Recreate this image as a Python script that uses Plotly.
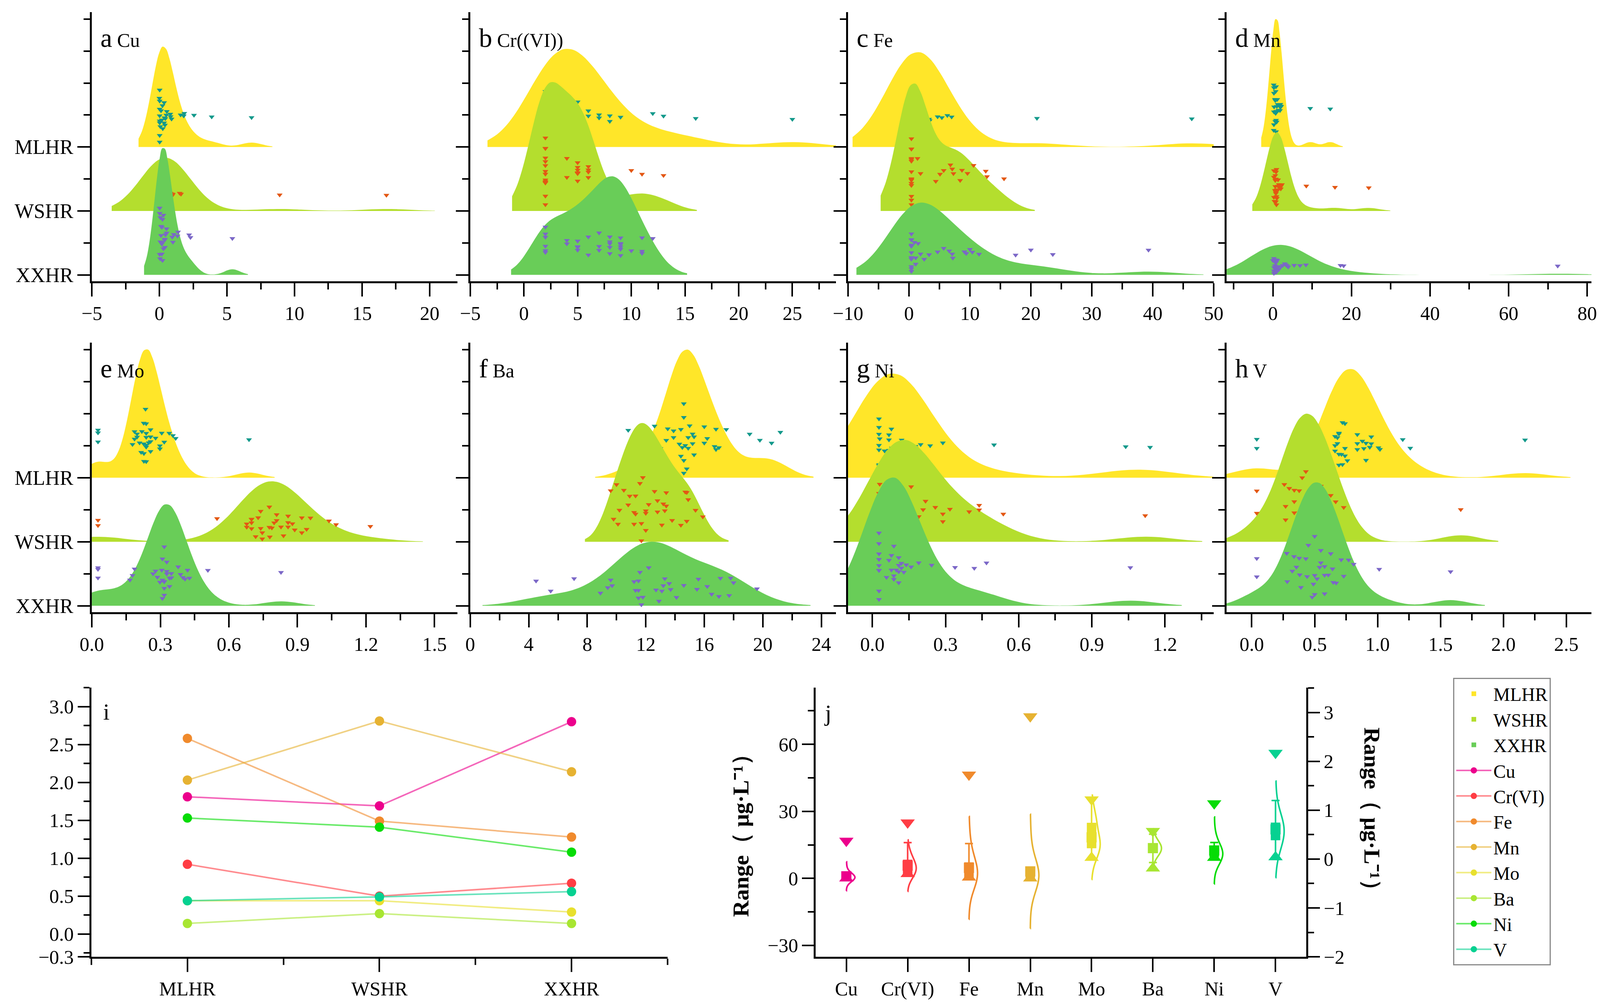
import numpy as np
import plotly.graph_objects as go

# ---------------- data ----------------
RIVERS = ["MLHR", "WSHR", "XXHR"]
ELEMENTS = ["Cu", "Cr(VI)", "Fe", "Mn", "Mo", "Ba", "Ni", "V"]
RIDGE_TITLES = ["Cu", "Cr((VI))", "Fe", "Mn", "Mo", "Ba", "Ni", "V"]
PANEL_LETTERS = ["a", "b", "c", "d", "e", "f", "g", "h"]

CU_MLHR = [0.23, 0.07, 0.37, 0.02, 0.18, 0.41, 0.02, 0.51, 0.12, 0.35, 0.02, 0.44, 0.02, 0.55, 0.02,
           0.35, 0.02, 0.25, 0.81, 0.02, 1.80, 1.57, 0.02, 0.90, 1.84, 0.83, 2.56, 3.87, 6.82, 0.00]
CU_WSHR = [0.65, 0.83, 0.83, 0.95, 1.50, 1.60, 1.00, 0.93, 8.90, 16.80, 0.05, 0.10, 0.10, 0.15, 0.20,
           0.20, 0.25, 0.30, 0.30, 0.35, 0.40, 0.10, 0.20, 0.30, 0.45, 0.50, 0.15, 0.25, 0.05, 0.35]
CU_XXHR = [0.07, 0.18, 0.12, 0.23, 0.53, 0.02, 0.02, 0.95, 0.39, 0.05, 0.23, 0.41, 0.07, 0.30, 0.53,
           1.06, 0.41, 0.02, 0.18, 0.30, 1.00, 1.38, 2.30, 0.18, 0.12, 1.34, 2.20, 5.40, 0.20, 0.45]

CR_MLHR = [2, 2, 2, 2, 2, 2, 2, 2, 3, 3, 4, 4, 4, 4, 5, 5, 5, 5, 5, 6, 6, 7, 7, 8, 8, 9, 12, 13, 16, 25]
CR_WSHR = [2, 2, 2, 2, 2, 2, 2, 2, 2, 2, 2, 2, 2, 2, 4, 4, 5, 5, 5, 5, 5, 5, 5, 6, 6, 6, 6, 10, 11, 13]
CR_XXHR = [2, 2, 2, 2, 2, 2, 4, 4, 5, 5, 5, 5, 6, 6, 7, 7, 7, 8, 8, 8, 8, 8, 9, 9, 9, 9, 9, 9, 10, 11,
           11, 11, 12]

FE_MLHR = [0.4, 0.4, 0.4, 0.4, 1.3, 2.4, 0.4, 0.4, 1.2, 5.4, 3.4, 4.7, 6.3, 3.3, 7.0, 21.0, 46.4,
           0.4, 0.4, 0.4, 0.4, 0.4, 0.4, 0.4, 0.4, 0.8, 1.0, 1.5, 2.0, 0.6]
FE_WSHR = [0.4, 0.4, 0.4, 0.4, 0.4, 0.4, 0.4, 0.4, 0.4, 0.4, 0.4, 1.4, 1.9, 4.4, 7.3, 8.4, 5.1, 5.7,
           0.4, 0.4, 8.7, 10.6, 12.6, 6.8, 7.1, 0.4, 0.4, 12.8, 9.6, 15.6]
FE_XXHR = [0.4, 1.1, 3.3, 0.4, 0.4, 2.5, 1.1, 0.4, 0.9, 0.4, 0.4, 1.9, 0.4, 0.4, 6.6, 7.2, 0.4, 1.5,
           9.4, 5.7, 0.4, 9.1, 0.4, 0.4, 10.0, 10.4, 4.7, 7.1, 11.5, 17.5, 20.0, 23.6, 39.3]

MN_MLHR = [0.8, 0.95, 0.8, 0.8, 0.7, 0.6, 1.9, 0.25, 0.6, 1.1, 0.25, 0.8, 0.7, 1.9, 0.6, 0.2, 0.95,
           0.25, 2.1, 0.2, 1.8, 0.25, 1.4, 1.9, 1.0, 9.5, 14.6, 0.5, 1.2, 0.3]
MN_WSHR = [0.95, 1.3, 0.25, 0.6, 2.0, 0.9, 2.0, 1.7, 0.25, 0.6, 2.3, 0.75, 0.6, 2.0, 0.75, 0.9, 0.25,
           0.75, 1.3, 8.5, 15.8, 24.4, 0.5, 0.8, 1.0, 1.2, 0.4, 0.7, 1.5, 0.9]
MN_XXHR = [0.6, 1.1, 0.25, 0.6, 0.9, 3.3, 0.25, 0.75, 2.5, 3.0, 0.0, 6.9, 8.4, 5.4, 0.25, 0.75, 3.9,
           3.6, 17.2, 18.0, 72.5, 0.3, 0.5, 0.8, 1.0, 1.2, 0.4, 0.6, 2.0, 1.5]

MO_MLHR = [0.257, 0.257, 0.227, 0.209, 0.228, 0.249, 0.228, 0.235, 0.238, 0.187, 0.198, 0.238, 0.238,
           0.219, 0.298, 0.187, 0.298, 0.257, 0.238, 0.355, 0.257, 0.238, 0.216, 0.227, 0.279, 0.339,
           0.178, 0.238, 0.367, 0.306, 0.317, 0.027, 0.027, 0.027, 0.198, 0.688]
MO_WSHR = [0.777, 0.777, 0.859, 0.859, 0.699, 0.888, 0.717, 0.809, 0.678, 0.919, 0.739, 0.779, 0.788,
           0.746, 0.746, 0.699, 0.728, 0.678, 0.839, 0.878, 0.940, 0.957, 0.809, 0.548, 1.038, 1.069,
           0.919, 0.859, 0.828, 0.798, 0.739, 0.699, 0.699, 1.219, 0.027, 0.027]
MO_XXHR = [0.317, 0.317, 0.340, 0.287, 0.298, 0.309, 0.317, 0.268, 0.340, 0.378, 0.328, 0.309, 0.388,
           0.419, 0.309, 0.317, 0.317, 0.328, 0.348, 0.399, 0.279, 0.306, 0.178, 0.187, 0.408, 0.348,
           0.167, 0.328, 0.427, 0.508, 0.828, 0.027, 0.027, 0.027]

BA_MLHR = [14.4, 14.8, 14.6, 14.6, 14.3, 14.6, 15.0, 14.9, 14.9, 15.3, 16.0, 13.9, 14.5, 15.2, 15.3,
           16.8, 13.5, 14.7, 15.2, 16.8, 17.5, 13.9, 14.6, 16.0, 17.0, 14.4, 16.2, 16.7, 19.8, 19.1,
           20.6, 21.2, 13.4, 10.8, 12.0, 12.6, 13.0]
BA_WSHR = [12.2, 12.0, 12.8, 11.2, 13.3, 13.4, 10.0, 13.1, 14.4, 11.3, 12.0, 12.0, 11.3, 11.6, 13.8,
           14.7, 10.5, 12.8, 10.9, 11.2, 9.8, 14.8, 14.8, 10.2, 15.9, 9.6, 10.1, 13.4, 15.4, 10.8,
           11.7, 12.6, 13.2, 14.9, 11.7, 11.8]
BA_XXHR = [11.7, 11.6, 11.5, 11.8, 14.1, 12.7, 13.3, 13.6, 17.8, 11.5, 9.7, 11.3, 9.4, 12.2, 11.2,
           13.7, 15.6, 16.5, 17.0, 11.5, 12.9, 13.1, 17.1, 18.0, 15.5, 7.1, 9.6, 13.2, 14.6, 16.2,
           4.5, 5.5, 8.9, 17.7, 19.6]

NI_MLHR = [0.068, 0.027, 0.068, 0.027, 0.098, 0.078, 0.027, 0.027, 0.027, 0.058, 0.177, 0.068, 0.119,
           0.068, 0.078, 0.027, 0.198, 0.027, 0.177, 0.237, 0.289, 0.499, 1.039, 1.139, 0.030, 0.050,
           0.100, 0.150, 0.080, 0.120]
NI_WSHR = [0.078, 0.098, 0.068, 0.098, 0.058, 0.159, 0.108, 0.027, 0.159, 0.027, 0.139, 0.149, 0.169,
           0.208, 0.258, 0.318, 0.289, 0.289, 0.218, 0.190, 0.397, 0.438, 0.438, 0.537, 1.119, 0.030,
           0.050, 0.070, 0.100, 0.120]
NI_XXHR = [0.078, 0.088, 0.119, 0.027, 0.058, 0.159, 0.027, 0.078, 0.027, 0.027, 0.098, 0.108, 0.027,
           0.108, 0.027, 0.119, 0.129, 0.108, 0.190, 0.088, 0.139, 0.027, 0.027, 0.088, 0.068, 0.243,
           0.339, 0.027, 0.108, 0.468, 0.418, 1.058]

V_MLHR = [0.839, 0.662, 0.693, 0.713, 0.662, 0.681, 0.741, 0.721, 0.721, 0.693, 0.693, 0.839, 0.908,
          1.007, 0.662, 0.693, 0.938, 1.019, 0.760, 0.879, 0.950, 0.741, 0.681, 0.891, 0.908, 0.950,
          0.741, 0.839, 1.200, 1.260, 2.172, 0.040, 0.040]
V_WSHR = [0.377, 0.371, 0.430, 0.338, 0.338, 0.579, 0.592, 0.608, 0.269, 0.401, 0.579, 0.628, 0.338,
          0.391, 0.298, 0.269, 0.401, 0.401, 0.549, 0.731, 0.667, 0.040, 0.040, 0.259, 1.661, 0.450,
          0.500, 0.550, 0.480, 0.520]
V_XXHR = [0.579, 0.430, 0.490, 0.608, 0.500, 0.500, 0.539, 0.391, 0.500, 0.549, 0.731, 0.671, 0.519,
          0.282, 0.322, 0.711, 0.579, 0.579, 0.642, 0.648, 0.450, 0.480, 0.549, 0.770, 0.381, 0.355,
          0.336, 0.377, 0.278, 0.440, 0.810, 0.040, 0.040, 0.628, 1.013, 1.580]

# panel i values (per river: MLHR, WSHR, XXHR)
I_CU = [1.81, 1.69, 2.80]
I_CR = [0.92, 0.50, 0.67]
I_FE = [2.58, 1.49, 1.28]
I_MN = [2.03, 2.81, 2.14]
I_MO = [0.44, 0.44, 0.29]
I_BA = [0.14, 0.27, 0.14]
I_NI = [1.53, 1.41, 1.08]
I_V = [0.44, 0.49, 0.56]

SAMPLES = [
    [CU_MLHR, CU_WSHR, CU_XXHR], [CR_MLHR, CR_WSHR, CR_XXHR], [FE_MLHR, FE_WSHR, FE_XXHR],
    [MN_MLHR, MN_WSHR, MN_XXHR], [MO_MLHR, MO_WSHR, MO_XXHR], [BA_MLHR, BA_WSHR, BA_XXHR],
    [NI_MLHR, NI_WSHR, NI_XXHR], [V_MLHR, V_WSHR, V_XXHR],
]
I_VALUES = [I_CU, I_CR, I_FE, I_MN, I_MO, I_BA, I_NI, I_V]
RIGHT_AXIS = [False, False, False, False, True, False, True, True]

# ---------------- styles ----------------
FONT = "Liberation Serif"
FILL = ["#FFE629", "#B4DE2E", "#69CD58"]
POINT = ["#13998B", "#E35713", "#7B67C7"]
ELEM_COLOR = ["#EC008C", "#FF3D44", "#F08A2C", "#E6B232", "#E8E02E", "#A8E632", "#06DC06", "#06D191"]
RIDGE_PEAK = [[1.57, 0.83, 1.98], [1.53, 2.01, 1.54], [1.48, 1.99, 1.13], [2.0, 1.23, 0.47],
              [2.0, 0.94, 1.58], [2.0, 1.85, 1.0], [1.62, 1.59, 2.0], [1.69, 2.0, 1.92]]
X_RANGES = [[-5, 22.05], [-5, 29.06], [-10, 50], [-11.8, 81.1], [0, 1.6], [0, 25], [-0.1, 1.4], [-0.2, 2.7]]
X_DTICK = [5, 5, 10, 20, 0.3, 4, 0.3, 0.5]
X_FMT = ["", "", "", "", ".1f", "", ".1f", ".1f"]
COL_DOM = [[0.0571, 0.2844], [0.2924, 0.5198], [0.5273, 0.7547], [0.7627, 0.9896]]
ROW_DOM = [[0.7204, 0.9880], [0.3915, 0.6594]]
BOT_DOM = [0.0489, 0.3165]
Y_RIDGE = [-0.1, 4.11]
W, H = 4117, 2575

AX_COMMON = dict(showgrid=False, zeroline=False, showline=True, linecolor="black", linewidth=5,
                 automargin=False, ticks="outside", tickwidth=4, tickcolor="black",
                 tickfont=dict(family=FONT, size=50, color="black"))


def minor(t0, dt, ln=16):
    return dict(tick0=t0, dtick=dt, ticklen=ln, tickwidth=4, ticks="outside", tickcolor="black",
                showgrid=False)


fig = go.Figure()
layout = {}
annotations = []

# ---------------- ridge panels a-h ----------------
for k, elem in enumerate(ELEMENTS):
    n = k + 1
    xa, ya = ("x" if n == 1 else f"x{n}"), ("y" if n == 1 else f"y{n}")
    row, col = divmod(k, 4)
    for r, river in enumerate(RIVERS):
        vals = np.asarray(SAMPLES[k][r], dtype=float)
        bw = 1.06 * vals.std(ddof=1) * len(vals) ** -0.2
        fig.add_trace(go.Violin(
            x=vals, y0=len(RIVERS) - 1 - r, orientation="h", side="positive",
            width=2 * RIDGE_PEAK[k][r], bandwidth=bw, spanmode="soft",
            fillcolor=FILL[r], line=dict(width=0, color=FILL[r]), opacity=1,
            points="all", pointpos=0.32, jitter=0.32,
            marker=dict(symbol="triangle-down", size=13, color=POINT[r], line=dict(width=0)),
            box_visible=False, meanline_visible=False,
            name=river, showlegend=(k == 0), legendgroup=river,
            xaxis=xa, yaxis=ya, hoverinfo="skip"))
    xkey = "xaxis" if n == 1 else f"xaxis{n}"
    ykey = "yaxis" if n == 1 else f"yaxis{n}"
    xfmt = dict(tickformat=X_FMT[k]) if X_FMT[k] else {}
    layout[xkey] = dict(AX_COMMON, domain=COL_DOM[col], anchor=ya, range=X_RANGES[k],
                        tick0=0, dtick=X_DTICK[k], ticklen=34,
                        minor=minor(0, X_DTICK[k] / 2), **xfmt)
    layout[ykey] = dict(AX_COMMON, domain=ROW_DOM[row], anchor=xa, range=Y_RIDGE, type="linear",
                        tickmode="array", tickvals=[0, 1, 2],
                        ticktext=[RIVERS[2], RIVERS[1], RIVERS[0]],
                        showticklabels=(col == 0), ticklen=32,
                        tickfont=dict(family=FONT, size=52, color="black"),
                        minor=minor(0, 0.5))
    # long ticks above the ridges (no labels) on an overlaying axis
    layout[f"yaxis{20 + n}"] = dict(overlaying=ya, anchor=xa, side="left", range=Y_RIDGE,
                                    type="linear", showgrid=False, zeroline=False, showline=False,
                                    automargin=False, tickmode="array", tickvals=[3, 4],
                                    showticklabels=False, ticks="outside", ticklen=32,
                                    tickwidth=4, tickcolor="black")
    annotations.append(dict(
        xref="paper", yref="paper",
        x=COL_DOM[col][0] + 20 / W, y=ROW_DOM[row][1] - 66 / H,
        xanchor="left", yanchor="middle", showarrow=False,
        text=f"<span style='font-size:68px'>{PANEL_LETTERS[k]}</span> {RIDGE_TITLES[k]}",
        font=dict(family=FONT, size=50, color="black")))

# ---------------- panel i ----------------
xi = list(range(1, len(RIVERS) + 1))
for k, elem in enumerate(ELEMENTS):
    c = ELEM_COLOR[k]
    rgb = tuple(int(c[i:i + 2], 16) for i in (1, 3, 5))
    fig.add_trace(go.Scatter(
        x=xi, y=I_VALUES[k], mode="lines+markers", name=elem,
        line=dict(color=f"rgba({rgb[0]},{rgb[1]},{rgb[2]},0.6)", width=4),
        marker=dict(symbol="circle", size=24, color=c),
        xaxis="x9", yaxis="y9", hoverinfo="skip"))
layout["xaxis9"] = dict(AX_COMMON, domain=[0.0568, 0.4151], anchor="y9", range=[0.5, 3.5],
                        tickmode="array", tickvals=xi, ticktext=RIVERS, ticklen=34,
                        minor=minor(0.5, 1))
layout["yaxis9"] = dict(AX_COMMON, domain=BOT_DOM, anchor="x9", range=[-0.3, 3.25],
                        tickmode="array", tickvals=[-0.3, 0, 0.5, 1.0, 1.5, 2.0, 2.5, 3.0],
                        tickformat=".1f", ticklen=30, minor=minor(0.25, 0.5, 15))
annotations.append(dict(xref="paper", yref="paper", x=262 / W, y=1 - 1822 / H, xanchor="left",
                        yanchor="middle", showarrow=False, text="i",
                        font=dict(family=FONT, size=60, color="black")))

# ---------------- panel j ----------------
for k, elem in enumerate(ELEMENTS):
    c = ELEM_COLOR[k]
    pooled = np.concatenate([np.asarray(s, dtype=float) for s in SAMPLES[k]])
    m, s = pooled.mean(), pooled.std(ddof=1)
    ya = "y11" if RIGHT_AXIS[k] else "y10"
    fig.add_trace(go.Violin(
        y=pooled, x0=k, orientation="v", side="positive", width=0.28,
        bandwidth=0.85 * s, spanmode="manual", span=[m - 3 * s, m + 3 * s],
        fillcolor="rgba(0,0,0,0)", line=dict(color=c, width=4), points=False,
        box_visible=False, meanline_visible=False, showlegend=False,
        xaxis="x10", yaxis=ya, hoverinfo="skip"))
    fig.add_trace(go.Box(
        y=pooled, x0=k, width=0.13, boxpoints="outliers", whiskerwidth=1,
        marker=dict(opacity=0, size=1), fillcolor=c, line=dict(color=c, width=4), showlegend=False,
        xaxis="x10", yaxis=ya, hoverinfo="skip"))
    fig.add_trace(go.Scatter(
        x=[k], y=[m], mode="markers", marker=dict(symbol="square", size=26, color=c),
        showlegend=False, xaxis="x10", yaxis=ya, hoverinfo="skip"))
    fig.add_trace(go.Scatter(
        x=[k, k], y=[pooled.max(), pooled.min()], mode="markers",
        marker=dict(symbol=["triangle-down", "triangle-up"], size=32, color=c),
        showlegend=False, xaxis="x10", yaxis=ya, hoverinfo="skip"))

layout["xaxis10"] = dict(AX_COMMON, domain=[0.5072, 0.8122], anchor="y10", range=[-0.5, 7.5],
                         tickmode="array", tickvals=list(range(len(ELEMENTS))), ticktext=ELEMENTS,
                         ticklen=34)
layout["yaxis10"] = dict(AX_COMMON, domain=BOT_DOM, anchor="x10", range=[-35.1, 85.4],
                         tick0=0, dtick=30, ticklen=30, minor=minor(15, 30, 15))
layout["yaxis11"] = dict(AX_COMMON, domain=BOT_DOM, anchor="x10", overlaying="y10", side="right",
                         range=[-2.0, 3.51], tick0=0, dtick=1, ticklen=30, minor=minor(0.5, 1, 15))
annotations.append(dict(xref="paper", yref="paper", x=2108 / W, y=1 - 1825 / H, xanchor="left",
                        yanchor="middle", showarrow=False, text="j",
                        font=dict(family=FONT, size=60, color="black")))
TITLE_J = "Range（ μg·L⁻¹）"
annotations.append(dict(xref="paper", yref="paper", x=1896 / W, y=1 - 2124 / H, textangle=-90,
                        xanchor="center", yanchor="middle", showarrow=False, text=TITLE_J,
                        font=dict(family=FONT, size=58, color="black", weight="bold")))
annotations.append(dict(xref="paper", yref="paper", x=3513 / W, y=1 - 2085 / H, textangle=90,
                        xanchor="center", yanchor="middle", showarrow=False, text=TITLE_J,
                        font=dict(family=FONT, size=58, color="black", weight="bold")))

fig.update_layout(
    template="none",
    width=W, height=H, margin=dict(l=0, r=0, t=0, b=0, autoexpand=False),
    paper_bgcolor="white", plot_bgcolor="white",
    font=dict(family=FONT, size=50, color="black"),
    violinmode="overlay", boxmode="overlay",
    annotations=annotations,
    legend=dict(x=3720 / W, y=1 - 1735 / H, xanchor="left", yanchor="top",
                bordercolor="#8a8a8a", borderwidth=3, bgcolor="white",
                font=dict(family=FONT, size=48, color="black"),
                itemwidth=90, tracegroupgap=0),
    **layout,
)

fig.write_html("out.html", config={"displayModeBar": False, "staticPlot": True},
               post_script="document.body.style.margin='0px';document.body.style.overflow='hidden';")
